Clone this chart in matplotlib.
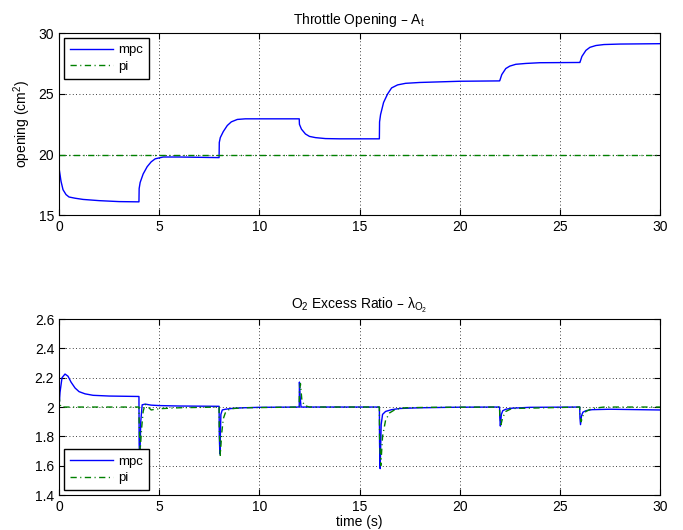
import matplotlib
matplotlib.use('Agg')
import matplotlib.pyplot as plt

plt.rcParams['font.family'] = ['Liberation Sans', 'DejaVu Sans']
plt.rcParams['mathtext.default'] = 'regular'

## throttle opening, mpc response (time, cm^2)
t_at_mpc = [0, 0.1, 0.2, 0.35, 0.5, 0.8, 1.2, 2.0, 3.0, 3.99,
            4.0, 4.05, 4.2, 4.4, 4.6, 4.8, 5.2, 6.0, 7.99,
            8.0, 8.05, 8.2, 8.4, 8.6, 8.9, 9.3, 10.0, 11.99,
            12.0, 12.1, 12.3, 12.5, 12.8, 13.3, 14.0, 15.99,
            16.0, 16.05, 16.2, 16.4, 16.6, 16.9, 17.3, 18.0, 20.0, 21.99,
            22.0, 22.1, 22.3, 22.5, 22.8, 23.3, 24.0, 25.99,
            26.0, 26.1, 26.3, 26.5, 26.8, 27.2, 28.0, 30.0]
at_mpc = [18.9, 17.8, 17.1, 16.7, 16.5, 16.4, 16.3, 16.2, 16.12, 16.1,
          17.2, 17.7, 18.4, 19.0, 19.4, 19.65, 19.8, 19.8, 19.75,
          21.0, 21.4, 21.9, 22.4, 22.7, 22.9, 22.95, 22.95, 22.95,
          22.5, 22.1, 21.7, 21.5, 21.4, 21.32, 21.3, 21.3,
          22.7, 23.3, 24.3, 25.0, 25.5, 25.75, 25.88, 25.95, 26.05, 26.08,
          26.1, 26.6, 27.1, 27.3, 27.45, 27.52, 27.58, 27.6,
          27.6, 28.1, 28.6, 28.85, 29.0, 29.08, 29.12, 29.15]
t_at_pi = [0, 30]
at_pi = [20.0, 20.0]

## O2 excess ratio, mpc response
t_lam_mpc = [0, 0.05, 0.15, 0.3, 0.45, 0.6, 0.8, 1.0, 1.3, 1.7, 2.5, 3.99,
             4.0, 4.03, 4.08, 4.15, 4.3, 4.6, 5.0, 6.0, 7.99,
             8.0, 8.03, 8.08, 8.15, 8.3, 8.6, 9.2, 10.0, 11.99,
             12.0, 12.03, 12.08, 14.0, 15.99,
             16.0, 16.03, 16.08, 16.15, 16.3, 16.6, 17.0, 18.0, 20.0, 21.99,
             22.0, 22.03, 22.08, 22.15, 22.3, 22.6, 23.5, 25.99,
             26.0, 26.03, 26.08, 26.15, 26.3, 26.6, 27.5, 30.0]
lam_mpc = [2.0, 2.1, 2.2, 2.225, 2.21, 2.17, 2.13, 2.105, 2.09, 2.08, 2.075, 2.072,
           1.75, 1.62, 1.9, 2.015, 2.02, 2.013, 2.01, 2.007, 2.005,
           1.8, 1.68, 1.95, 1.98, 1.985, 1.99, 1.995, 1.998, 2.0,
           2.17, 2.08, 2.0, 2.0, 2.0,
           1.75, 1.58, 1.88, 1.95, 1.97, 1.982, 1.99, 1.995, 1.999, 2.0,
           1.93, 1.87, 1.95, 1.975, 1.985, 1.992, 1.998, 2.0,
           1.93, 1.88, 1.94, 1.965, 1.975, 1.982, 1.985, 1.98]

## O2 excess ratio, pi response
t_lam_pi = [0, 0.05, 0.1, 0.2, 3.99,
            4.0, 4.05, 4.12, 4.2, 4.3, 4.45, 4.6, 4.8, 5.2, 6.0, 7.99,
            8.0, 8.05, 8.12, 8.2, 8.3, 8.45, 8.7, 9.2, 11.99,
            12.0, 12.05, 12.12, 12.25, 12.5, 15.99,
            16.0, 16.06, 16.15, 16.3, 16.5, 16.8, 17.3, 18.5, 21.99,
            22.0, 22.06, 22.15, 22.3, 22.6, 25.99,
            26.0, 26.06, 26.15, 26.3, 26.6, 27.2, 30.0]
lam_pi = [2.08, 2.02, 2.0, 2.0, 2.0,
          1.9, 1.7, 1.85, 1.97, 2.02, 2.0, 1.98, 1.985, 1.99, 1.995, 2.0,
          1.85, 1.67, 1.82, 1.92, 1.96, 1.98, 1.99, 1.995, 2.0,
          2.1, 2.16, 2.05, 2.01, 2.0, 2.0,
          1.8, 1.6, 1.8, 1.91, 1.96, 1.985, 1.995, 1.998, 2.0,
          1.95, 1.88, 1.93, 1.97, 1.99, 2.0,
          1.95, 1.9, 1.94, 1.97, 1.99, 2.0, 2.0]

MPC_COLOR = '#0000ff'
PI_COLOR = '#008000'
PI_DASH = (0, (4.5, 2.5, 0.8, 2.5))

fig = plt.figure(figsize=(6.83, 5.30), dpi=100)
ax1 = fig.add_axes([0.0864, 0.594, 0.88, 0.343])
ax2 = fig.add_axes([0.0864, 0.066, 0.88, 0.332])

def style_axis(ax):
    ax.grid(True, color='black', linestyle=(0, (1, 3)), linewidth=0.6)
    ax.tick_params(direction='in', top=True, right=True, labelsize=10, length=4)
    for s in ax.spines.values():
        s.set_linewidth(0.8)

def add_legend(ax, loc):
    ax.legend(loc=loc, fontsize=9.5, fancybox=False, edgecolor='black',
              framealpha=1, borderpad=0.45, handlelength=3.3, handletextpad=0.35,
              labelspacing=0.35, borderaxespad=0.35)

##节气门开度
ax1.plot(t_at_mpc, at_mpc, color=MPC_COLOR, linewidth=1.0, label='mpc')
ax1.plot(t_at_pi, at_pi, color=PI_COLOR, linestyle=PI_DASH, linewidth=1.0, label='pi')
ax1.set_xlim(0, 30)
ax1.set_ylim(15, 30)
ax1.set_yticks([15, 20, 25, 30])
ax1.set_xticks(range(0, 31, 5))
ax1.set_ylabel('opening (cm$^2$)', fontsize=10)
ax1.set_title('Throttle Opening \u2013 A$_t$', fontsize=10, pad=7)
style_axis(ax1)
add_legend(ax1, 'upper left')

##氧气过量系数
ax2.plot(t_lam_mpc, lam_mpc, color=MPC_COLOR, linewidth=1.0, label='mpc')
ax2.plot(t_lam_pi, lam_pi, color=PI_COLOR, linestyle=PI_DASH, linewidth=1.0, label='pi')
ax2.set_xlim(0, 30)
ax2.set_ylim(1.4, 2.6)
ax2.set_yticks([1.4, 1.6, 1.8, 2.0, 2.2, 2.4, 2.6])
ax2.set_yticklabels(['1.4', '1.6', '1.8', '2', '2.2', '2.4', '2.6'])
ax2.set_xticks(range(0, 31, 5))
ax2.set_xlabel('time (s)', fontsize=10, labelpad=1)
ax2.set_title('O$_2$ Excess Ratio \u2013 $\\lambda_{O_2}$', fontsize=10, pad=7)
style_axis(ax2)
add_legend(ax2, 'lower left')

fig.savefig('out.png', dpi=100)
